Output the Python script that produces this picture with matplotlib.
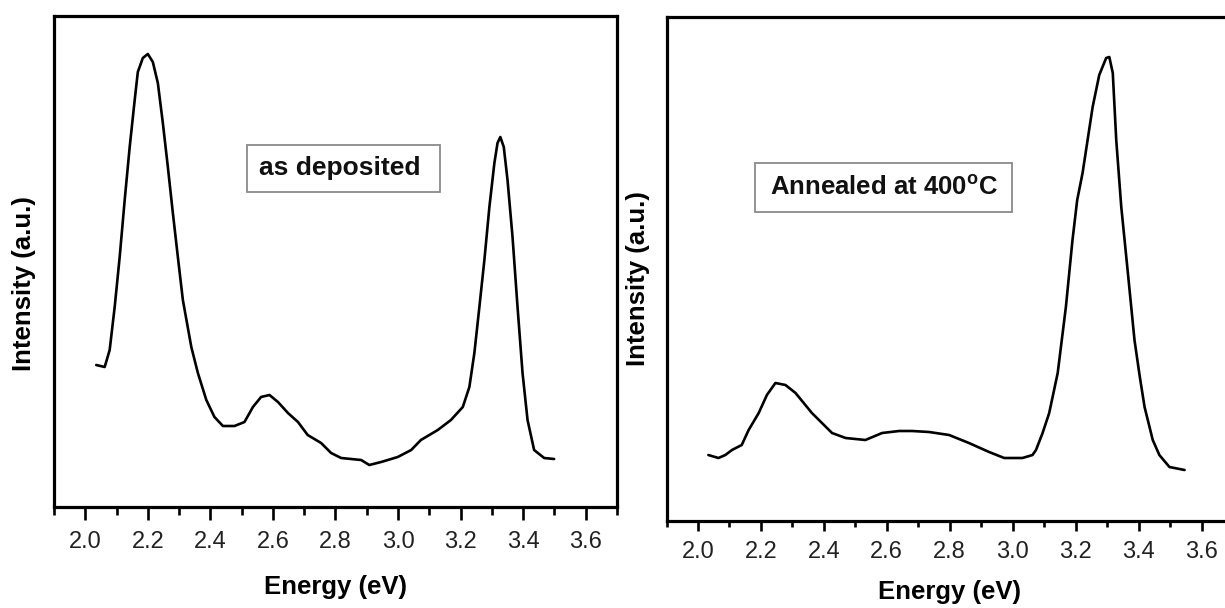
import matplotlib
matplotlib.use("Agg")
import matplotlib.pyplot as plt
from matplotlib.patches import Rectangle
from matplotlib.ticker import MultipleLocator

# ---------------- data ----------------
# Panel (a): as deposited
energy_dep = [2.035, 2.062, 2.078, 2.094, 2.110, 2.126, 2.142, 2.158, 2.168, 2.184,
              2.200, 2.216, 2.232, 2.248, 2.264, 2.280, 2.296, 2.312, 2.339, 2.360,
              2.387, 2.413, 2.440, 2.477, 2.509, 2.536, 2.562, 2.589, 2.616, 2.648,
              2.680, 2.711, 2.754, 2.786, 2.818, 2.850, 2.882, 2.908, 2.946, 2.999,
              3.042, 3.073, 3.127, 3.169, 3.207, 3.228, 3.244, 3.260, 3.276, 3.292,
              3.308, 3.318, 3.327, 3.338, 3.350, 3.366, 3.382, 3.398, 3.414, 3.435,
              3.467, 3.499]
intensity_dep = [142, 140, 157, 200, 250, 307, 360, 407, 435, 449,
                 453, 445, 424, 384, 340, 294, 250, 207, 160, 134,
                 107, 90, 81, 81, 85, 100, 110, 112, 105, 94,
                 85, 72, 64, 54, 49, 48, 47, 42, 45, 50,
                 57, 67, 77, 87, 100, 120, 154, 200, 247, 300,
                 344, 364, 370, 360, 327, 270, 200, 134, 87, 57,
                 49, 48]

# Panel (b): annealed at 400 C
energy_ann = [2.033, 2.065, 2.087, 2.108, 2.139, 2.161, 2.193, 2.219, 2.246, 2.278,
              2.310, 2.336, 2.362, 2.394, 2.426, 2.469, 2.532, 2.585, 2.639, 2.681,
              2.734, 2.798, 2.861, 2.925, 2.973, 3.031, 3.063, 3.074, 3.095, 3.116,
              3.143, 3.169, 3.190, 3.205, 3.222, 3.238, 3.254, 3.275, 3.297, 3.307,
              3.318, 3.329, 3.345, 3.366, 3.387, 3.403, 3.419, 3.445, 3.466, 3.498,
              3.546]
intensity_ann = [66, 63, 66, 71, 76, 91, 108, 126, 138, 136,
                 128, 118, 108, 98, 88, 83, 81, 88, 90, 90,
                 89, 86, 78, 69, 63, 63, 66, 71, 88, 108,
                 148, 214, 281, 321, 348, 381, 414, 446, 463, 464,
                 448, 381, 314, 248, 181, 146, 114, 81, 66, 54,
                 51]

xticks = [2.0, 2.2, 2.4, 2.6, 2.8, 3.0, 3.2, 3.4, 3.6]
xticklabels = ["2.0", "2.2", "2.4", "2.6", "2.8", "3.0", "3.2", "3.4", "3.6"]
xlabel = "Energy (eV)"
ylabel = "Intensity (a.u.)"
label_dep = "as deposited"
label_ann = "Annealed at 400$^{\\mathregular{o}}$C"

# ---------------- styling ----------------
regular = ["Liberation Sans", "DejaVu Sans"]
plt.rcParams["font.family"] = regular

W, H = 1225, 608
fig = plt.figure(figsize=(W / 100, H / 100), dpi=100)
fig.patch.set_facecolor("white")


def px_axes(x0, y0, x1, y1):
    """axes rectangle from pixel corners (top-left origin)"""
    return fig.add_axes([x0 / W, (H - y1) / H, (x1 - x0) / W, (y1 - y0) / H])


AX1 = (54, 16, 617, 507)
AX2 = (666.5, 17, 1233, 521)
ax1 = px_axes(*AX1)
ax2 = px_axes(*AX2)

panels = [
    (ax1, energy_dep, intensity_dep, 491, 9.5, 6.0, 8.0),
    (ax2, energy_ann, intensity_ann, 504, 7.5, 4.5, 7.0),
]
for ax, e, inten, ytop, majl, minl, pad in panels:
    ax.plot(e, inten, color="black", lw=1.9, solid_joinstyle="round",
            solid_capstyle="round")
    ax.set_xlim(1.9, 3.7)
    ax.set_ylim(0, ytop)
    ax.set_xticks(xticks)
    ax.set_xticklabels(xticklabels, fontsize=17, color="#222222")
    ax.xaxis.set_minor_locator(MultipleLocator(0.1))
    ax.tick_params(axis="x", which="major", direction="out", length=majl, width=1.9,
                   pad=pad, color="black")
    ax.tick_params(axis="x", which="minor", direction="out", length=minl, width=1.9,
                   color="black")
    ax.set_yticks([])
    for sp in ax.spines.values():
        sp.set_linewidth(2.3)
        sp.set_color("black")


def fx(axp, px):
    return (px - axp[0]) / (axp[2] - axp[0])


def fy(axp, py):
    return (axp[3] - py) / (axp[3] - axp[1])


# axis labels
ax1.set_xlabel(xlabel, fontsize=18.5, fontweight="bold", va="center")
ax1.xaxis.set_label_coords(fx(AX1, 336), fy(AX1, 587))
ax2.set_xlabel(xlabel, fontsize=18.5, fontweight="bold", va="center")
ax2.xaxis.set_label_coords(fx(AX2, 950), fy(AX2, 592))

ax1.set_ylabel(ylabel, fontsize=18.5, fontweight="bold", va="center")
ax1.yaxis.set_label_coords(fx(AX1, 24.5), fy(AX1, 284))
ax2.set_ylabel(ylabel, fontsize=18.5, fontweight="bold", va="center")
ax2.yaxis.set_label_coords(fx(AX2, 638), fy(AX2, 279))


# annotation boxes (pixel boxes converted to axes fraction)
def box(ax, axp, bx, tx, text, fs):
    b0, c0, b1, c1 = bx
    x0, x1 = fx(axp, b0), fx(axp, b1)
    y0, y1 = fy(axp, c1), fy(axp, c0)
    ax.add_patch(Rectangle((x0, y0), x1 - x0, y1 - y0, transform=ax.transAxes,
                           facecolor="white", edgecolor="#8a8a8a", lw=1.3, zorder=3))
    ax.text(fx(axp, tx), (y0 + y1) / 2, text, transform=ax.transAxes,
            ha="center", va="center", fontsize=fs, fontweight="bold",
            color="#111111", zorder=4)


box(ax1, AX1, (247, 145, 440, 192), 340, label_dep, 19)
box(ax2, AX2, (755, 163, 1012, 212), 884, label_ann, 18.5)

fig.savefig("out.png", dpi=100, facecolor="white")
